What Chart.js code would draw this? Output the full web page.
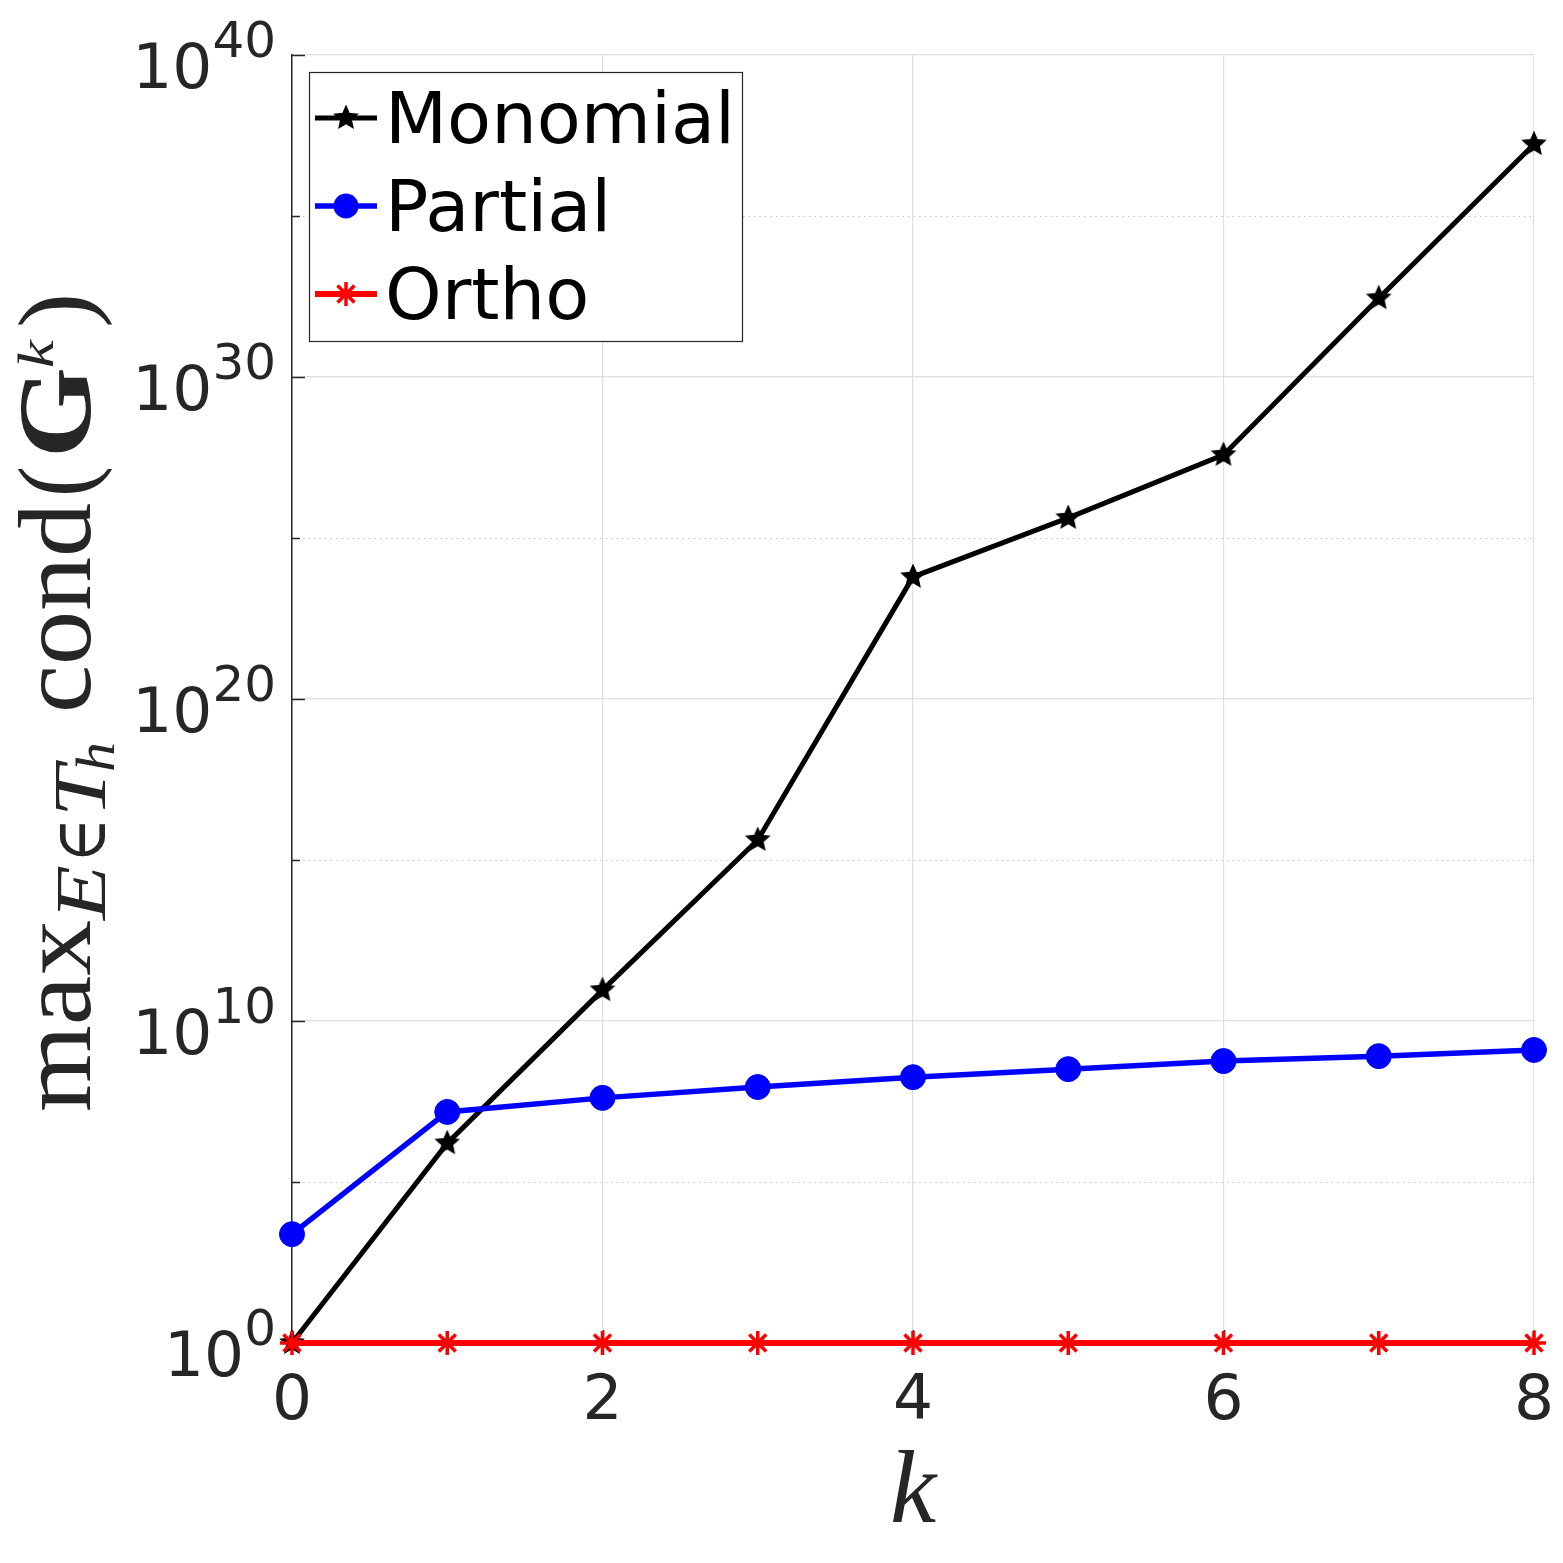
<!DOCTYPE html>
<html>
<head>
<meta charset="utf-8">
<script src="https://cdn.jsdelivr.net/npm/chart.js@4.4.1/dist/chart.umd.min.js"></script>
<style>
  html, body { margin: 0; padding: 0; background: #fff; }
  #wrap { width: 1563px; height: 1563px; }
</style>
</head>
<body>
<div id="wrap"><canvas id="chart"></canvas></div>
<script>
// values
const kValues = [0, 1, 2, 3, 4, 5, 6, 7, 8];
const monomial = [1, 1.6e6, 9.1e10, 4.2e15, 6.2e23, 4.2e25, 3.8e27, 2.8e32, 1.7e37];
const partial = [2.4e3, 1.5e7, 4.1e7, 8.9e7, 1.8e8, 3.2e8, 5.7e8, 8.1e8, 1.26e9];
const ortho = [1, 1, 1, 1, 1, 1, 1, 1, 1];
const seriesNames = ["Monomial", "Partial", "Ortho"];
const yTickExps = [0, 5, 10, 15, 20, 25, 30, 35, 40];
const yLabelExps = [0, 10, 20, 30, 40];
const xTicks = [0, 2, 4, 6, 8];

const axisColor = "#262626";
const sansFont = "'DejaVu Sans', sans-serif";
const serifFont = "'Liberation Serif', 'DejaVu Serif', serif";

// filled five point star used as marker
function pentagram(r, color) {
  const c = document.createElement("canvas");
  const s = Math.ceil(r * 2 + 4);
  c.width = s;
  c.height = s;
  const g = c.getContext("2d");
  g.translate(s / 2, s / 2);
  g.beginPath();
  for (let i = 0; i < 10; i++) {
    let rr = i % 2 ? r * 0.47 : r;
    let a = -Math.PI / 2 + (i * Math.PI) / 5;
    g.lineTo(rr * Math.cos(a), rr * Math.sin(a));
  }
  g.closePath();
  g.fillStyle = color;
  g.fill();
  g.strokeStyle = color;
  g.lineWidth = 2;
  g.stroke();
  return c;
}
const starMarker = pentagram(11, "#000");

function toPoints(vals) {
  return kValues.map((k, i) => ({ x: k, y: vals[i] }));
}

// grid, ticks, labels, titles and legend drawn on top of chart.js scales
const matlabAxes = {
  id: "matlabAxes",
  beforeDatasetsDraw(chart) {
    const { ctx, chartArea } = chart;
    const xs = chart.scales.x;
    const ys = chart.scales.y;
    ctx.save();
    // dotted minor grid
    ctx.strokeStyle = "#c4c4c4";
    ctx.lineWidth = 1.2;
    ctx.setLineDash([1.5, 4]);
    yTickExps.forEach((e) => {
      if (e % 10 === 0) return;
      let y = Math.round(ys.getPixelForValue(Math.pow(10, e))) + 0.5;
      ctx.beginPath();
      ctx.moveTo(chartArea.left, y);
      ctx.lineTo(chartArea.right, y);
      ctx.stroke();
    });
    ctx.setLineDash([]);
    // inward ticks
    ctx.strokeStyle = axisColor;
    ctx.lineWidth = 1.5;
    yTickExps.forEach((e) => {
      let y = Math.round(ys.getPixelForValue(Math.pow(10, e))) + 0.5;
      let len = e % 10 === 0 ? 13 : 8;
      ctx.beginPath();
      ctx.moveTo(chartArea.left, y);
      ctx.lineTo(chartArea.left + len, y);
      ctx.stroke();
    });
    xTicks.forEach((k) => {
      let x = Math.round(xs.getPixelForValue(k)) + 0.5;
      ctx.beginPath();
      ctx.moveTo(x, chartArea.bottom);
      ctx.lineTo(x, chartArea.bottom - 13);
      ctx.stroke();
    });
    ctx.restore();
  },
  afterDraw(chart) {
    const { ctx, chartArea } = chart;
    const xs = chart.scales.x;
    const ys = chart.scales.y;
    ctx.save();
    ctx.fillStyle = axisColor;

    // y tick labels 10^n
    yLabelExps.forEach((e) => {
      let y = ys.getPixelForValue(Math.pow(10, e));
      let right = chartArea.left - 16;
      ctx.textAlign = "right";
      ctx.textBaseline = "alphabetic";
      ctx.font = "50px " + sansFont;
      let expText = String(e);
      let ew = ctx.measureText(expText).width;
      ctx.fillText(expText, right, y + 2);
      ctx.font = "63px " + sansFont;
      ctx.fillText("10", right - ew, y + 33);
    });

    // x tick labels
    ctx.font = "63px " + sansFont;
    ctx.textAlign = "center";
    xTicks.forEach((k) => {
      ctx.fillText(String(k), xs.getPixelForValue(k), chartArea.bottom + 76);
    });

    // x title
    ctx.font = "italic 104px " + serifFont;
    ctx.fillText("k", (chartArea.left + chartArea.right) / 2, 1522);

    // y title, pieces placed along the rotated baseline
    ctx.translate(90, 1112);
    ctx.rotate(-Math.PI / 2);
    ctx.textAlign = "left";
    const pieces = [
      { t: "max", f: "104px", from: 1112, to: 920, dy: 0 },
      { t: "E", f: "italic 72px", from: 920, to: 864, dy: 15 },
      { t: "\u2208", f: "72px", from: 863, to: 818, dy: 15 },
      { t: "T", f: "italic 74px", from: 817, to: 750, dy: 15 },
      { t: "h", f: "italic 54px", from: 772, to: 742, dy: 24 },
      { t: "cond", f: "104px", from: 713, to: 503, dy: 0 },
      { t: "(", f: "104px", from: 497, to: 466, dy: 0 },
      { t: "G", f: "bold 104px", from: 458, to: 367, dy: 0 },
      { t: "k", f: "italic 50px", from: 368, to: 333, dy: -37 },
      { t: ")", f: "104px", from: 328, to: 293, dy: 0 },
    ];
    pieces.forEach((p) => {
      ctx.font = p.f + " " + serifFont;
      let w = ctx.measureText(p.t).width;
      let target = p.from - p.to;
      let sx = Math.min(1.25, Math.max(0.8, target / w));
      ctx.save();
      ctx.translate(1112 - p.from, p.dy);
      ctx.scale(sx, 1);
      ctx.fillText(p.t, 0, 0);
      ctx.restore();
    });
    ctx.restore();

    // legend box
    ctx.save();
    const box = { x: 309.5, y: 72.5, w: 433, h: 269 };
    ctx.fillStyle = "#fff";
    ctx.fillRect(box.x, box.y, box.w, box.h);
    ctx.strokeStyle = axisColor;
    ctx.lineWidth = 1.2;
    ctx.strokeRect(box.x, box.y, box.w, box.h);
    chart.data.datasets.forEach((ds, i) => {
      let y = 118 + i * 88;
      ctx.strokeStyle = ds.borderColor;
      ctx.lineWidth = ds.borderWidth;
      ctx.beginPath();
      ctx.moveTo(315, y);
      ctx.lineTo(377, y);
      ctx.stroke();
      drawMarker(ctx, ds, 346, y);
      ctx.fillStyle = "#000";
      ctx.font = "72px " + sansFont;
      ctx.textAlign = "left";
      ctx.textBaseline = "alphabetic";
      ctx.fillText(ds.label, 385, y + 25);
    });
    ctx.restore();
  },
};

function drawMarker(ctx, ds, x, y) {
  const st = ds.pointStyle;
  const r = ds.pointRadius;
  ctx.save();
  if (st instanceof HTMLCanvasElement) {
    ctx.drawImage(st, x - st.width / 2, y - st.height / 2);
  } else if (st === "circle") {
    ctx.fillStyle = ds.pointBackgroundColor;
    ctx.beginPath();
    ctx.arc(x, y, r, 0, Math.PI * 2);
    ctx.fill();
  } else if (st === "star") {
    ctx.strokeStyle = ds.pointBorderColor;
    ctx.lineWidth = ds.pointBorderWidth;
    ctx.beginPath();
    for (let i = 0; i < 4; i++) {
      let a = (i * Math.PI) / 4;
      ctx.moveTo(x - r * Math.cos(a), y - r * Math.sin(a));
      ctx.lineTo(x + r * Math.cos(a), y + r * Math.sin(a));
    }
    ctx.stroke();
  }
  ctx.restore();
}

const ctx = document.getElementById("chart");
const myChart = new Chart(ctx, {
  type: "line",
  data: {
    datasets: [
      {
        label: seriesNames[0],
        data: toPoints(monomial),
        borderColor: "#000000",
        backgroundColor: "#000000",
        borderWidth: 5,
        pointStyle: starMarker,
        pointRadius: 11,
        order: 3,
      },
      {
        label: seriesNames[1],
        data: toPoints(partial),
        borderColor: "#0000ff",
        backgroundColor: "#0000ff",
        pointBackgroundColor: "#0000ff",
        pointBorderColor: "#0000ff",
        borderWidth: 5.5,
        pointStyle: "circle",
        pointRadius: 12.5,
        pointBorderWidth: 1,
        order: 2,
      },
      {
        label: seriesNames[2],
        data: toPoints(ortho),
        borderColor: "#ff0000",
        backgroundColor: "#ff0000",
        pointBorderColor: "#ff0000",
        borderWidth: 6,
        pointStyle: "star",
        pointRadius: 12,
        pointBorderWidth: 3.5,
        order: 1,
      },
    ],
  },
  options: {
    responsive: true,
    maintainAspectRatio: false,
    animation: false,
    devicePixelRatio: 1,
    clip: false,
    layout: { padding: { left: 0, top: 55, right: 29, bottom: 0 } },
    plugins: {
      legend: { display: false },
      tooltip: { enabled: false },
    },
    scales: {
      x: {
        type: "linear",
        min: 0,
        max: 8,
        afterBuildTicks: (s) => {
          s.ticks = xTicks.map((v) => ({ value: v }));
        },
        afterFit: (s) => {
          s.height = 220;
        },
        ticks: { display: false },
        grid: { color: "#dfdfdf", lineWidth: 1.2, drawTicks: false },
        border: { display: true, color: axisColor, width: 1.5 },
      },
      y: {
        type: "logarithmic",
        min: 1,
        max: 1e40,
        afterBuildTicks: (s) => {
          s.ticks = yTickExps.map((e) => ({ value: Math.pow(10, e) }));
        },
        afterFit: (s) => {
          s.width = 292;
        },
        ticks: { display: false },
        grid: {
          drawTicks: false,
          lineWidth: 1.2,
          color: (c) => {
            let e = Math.round(Math.log10(c.tick.value));
            return e % 10 === 0 ? "#dfdfdf" : "rgba(0,0,0,0)";
          },
        },
        border: { display: true, color: axisColor, width: 1.5 },
      },
    },
  },
  plugins: [matlabAxes],
});
</script>
</body>
</html>
